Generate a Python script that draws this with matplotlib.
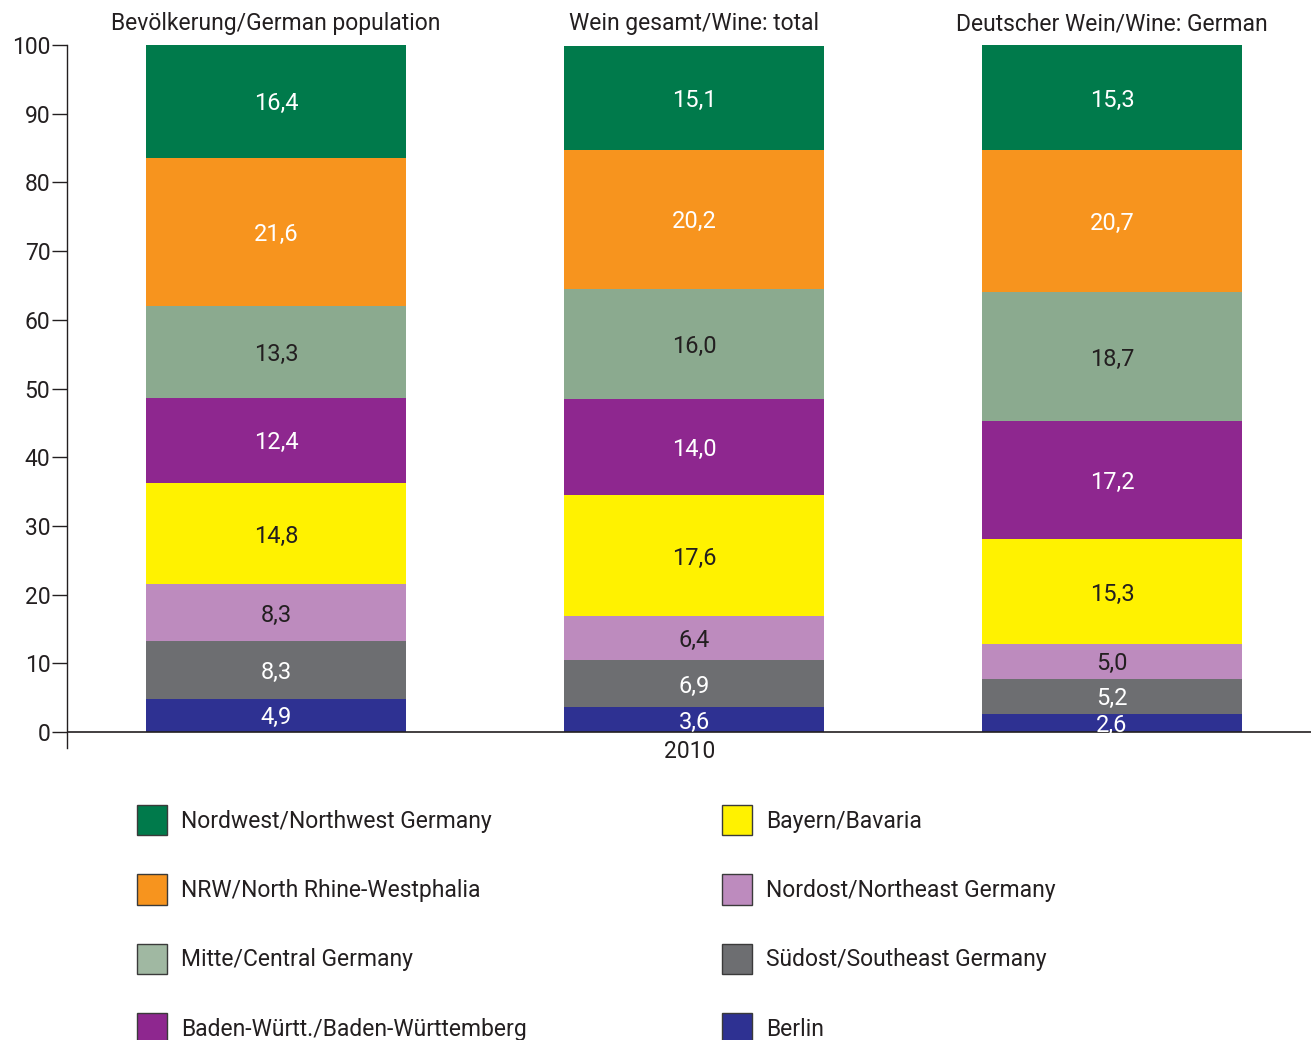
import numpy as np
import matplotlib.pyplot as plt
from matplotlib.patches import Patch

plt.rcParams['font.family'] = ['Roboto', 'DejaVu Sans']

# bars (left to right) and regions (bottom to top of each stack)
columns = ['Bevölkerung/German population', 'Wein gesamt/Wine: total', 'Deutscher Wein/Wine: German']
regions = ['Berlin', 'Südost/Southeast Germany', 'Nordost/Northeast Germany', 'Bayern/Bavaria',
           'Baden-Württ./Baden-Württemberg', 'Mitte/Central Germany', 'NRW/North Rhine-Westphalia',
           'Nordwest/Northwest Germany']
population = [4.9, 8.3, 8.3, 14.8, 12.4, 13.3, 21.6, 16.4]
wine_total = [3.6, 6.9, 6.4, 17.6, 14.0, 16.0, 20.2, 15.1]
wine_german = [2.6, 5.2, 5.0, 15.3, 17.2, 18.7, 20.7, 15.3]
year_label = '2010'

colors = ['#2E3192', '#6D6E71', '#BD8BBE', '#FFF200', '#8E278F', '#8BAA8F', '#F7941E', '#007A4B']
legend_colors = ['#2E3192', '#6D6E71', '#BD8BBE', '#FFF200', '#8E278F', '#A0B8A2', '#F7941E', '#007A4B']
label_colors = ['white', 'white', '#231F20', '#231F20', 'white', '#231F20', 'white', 'white']
dark = '#231F20'
fs = 16.5

data = np.array([population, wine_total, wine_german])
x = np.arange(len(columns))

fig = plt.figure(figsize=(13.11, 10.4), dpi=100)
ax = fig.add_axes([67 / 1311, 1 - 748 / 1040, 1 - 67 / 1311, (748 - 45) / 1040])

bottom = np.zeros(len(columns))
for i, reg in enumerate(regions):
    vals = data[:, i]
    ax.bar(x, vals, width=0.622, bottom=bottom, color=colors[i], linewidth=0)
    for j in range(len(columns)):
        ax.text(x[j], bottom[j] + vals[j] / 2 - 0.35, f'{vals[j]:.1f}'.replace('.', ','),
                ha='center', va='center', fontsize=17, color=label_colors[i])
    bottom += vals

for j, title in enumerate(columns):
    ax.text(x[j], 103.1, title, ha='center', va='center', fontsize=fs, color=dark, clip_on=False)

ax.set_xlim(-0.5, 2.476)
ax.set_ylim(-2.3, 100)
ax.set_yticks(np.arange(0, 101, 10))
ax.tick_params(axis='y', length=11, width=1, color=dark, labelsize=fs, labelcolor=dark, pad=1)
ax.set_xticks([])
ax.text(0.99, -2.75, year_label, ha='center', va='center', fontsize=fs, color=dark, clip_on=False)
for s in ['top', 'right', 'bottom']:
    ax.spines[s].set_visible(False)
ax.spines['left'].set_color(dark)
ax.spines['left'].set_linewidth(1)
ax.axhline(0, color=dark, lw=1.2)

handles = [Patch(facecolor=legend_colors[i], edgecolor='#3a3a3a', linewidth=1, label=regions[i])
           for i in range(len(regions))]
order1 = [7, 6, 5, 4]
order2 = [3, 2, 1, 0]
leg_kw = dict(frameon=False, fontsize=fs, handlelength=1.31, handleheight=1.64,
              handletextpad=0.61, labelspacing=1.72, borderpad=0, borderaxespad=0, loc='upper left',
              labelcolor=dark)
fig.legend(handles=[handles[i] for i in order1], bbox_to_anchor=(137 / 1311, 1 - 805 / 1040), **leg_kw)
fig.legend(handles=[handles[i] for i in order2], bbox_to_anchor=(722 / 1311, 1 - 805 / 1040), **leg_kw)

fig.savefig('out.png', dpi=100)
